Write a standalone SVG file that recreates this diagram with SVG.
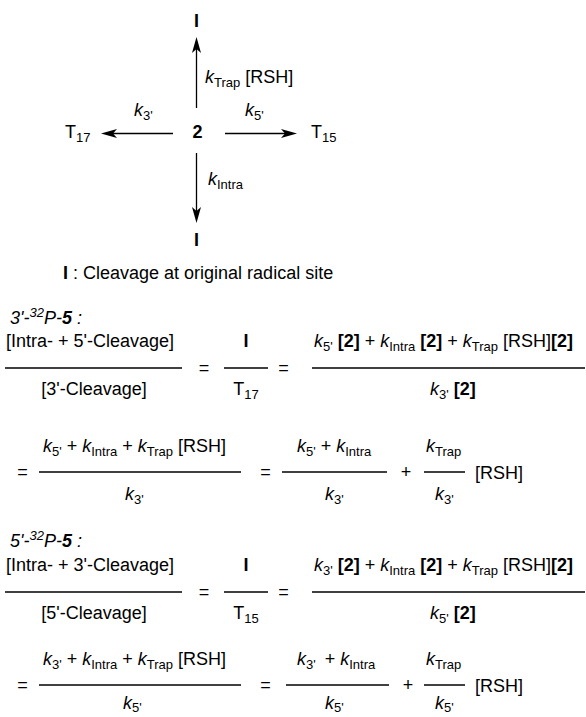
<svg xmlns="http://www.w3.org/2000/svg" width="586" height="717" viewBox="0 0 586 717">
<style>
.t{font-family:"Liberation Sans",Arial,Helvetica,sans-serif;font-size:18px;fill:#000}
.i{font-style:italic}
.b{font-weight:bold}
.s{font-size:13px}
.m{text-anchor:middle}
.ln{stroke:#000;stroke-width:1.3;fill:none}
.ar{stroke:#000;stroke-width:1.3;fill:none;marker-end:url(#ah)}
</style>
<defs>
<marker id="ah" markerUnits="userSpaceOnUse" markerWidth="20" markerHeight="12" refX="0" refY="0" orient="auto" overflow="visible">
<path d="M12,0 L-4,-4.5 L0,0 L-4,4.5 Z" fill="#000"/>
</marker>
</defs>

<g id="node-I-top"><text class="t b m" x="196.5" y="27">I</text></g>
<g id="node-2"><text class="t b m" x="197.5" y="138">2</text></g>
<g id="node-T17"><text class="t" x="65" y="138">T<tspan class="s" dy="4">17</tspan></text></g>
<g id="node-T15"><text class="t" x="311" y="138">T<tspan class="s" dy="4">15</tspan></text></g>
<g id="node-I-bottom"><text class="t b m" x="196.5" y="246">I</text></g>

<g id="connectors">
<line class="ar" x1="196.5" y1="108" x2="196.5" y2="49"/>
<line class="ar" x1="196.5" y1="153" x2="196.5" y2="211"/>
<line class="ar" x1="173" y1="133.5" x2="113" y2="133.5"/>
<line class="ar" x1="225" y1="133.5" x2="285" y2="133.5"/>
<text class="t" x="205" y="83"><tspan class="i">k</tspan><tspan class="s" dy="4">Trap</tspan><tspan dy="-4"> [RSH]</tspan></text>
<text class="t" x="134" y="116"><tspan class="i">k</tspan><tspan class="s" dy="4">3'</tspan></text>
<text class="t" x="245" y="116"><tspan class="i">k</tspan><tspan class="s" dy="4">5'</tspan></text>
<text class="t" x="208" y="185"><tspan class="i">k</tspan><tspan class="s" dy="4">Intra</tspan></text>
</g>

<g id="legend"><text class="t" x="63" y="279"><tspan class="b">I</tspan> : Cleavage at original radical site</text></g>

<g id="block-3prime">
<text class="t i" x="10" y="324">3'-<tspan class="s" dy="-7">32</tspan><tspan dy="7">P-</tspan><tspan class="b">5</tspan> :</text>
<text class="t" x="6" y="347">[Intra- + 5'-Cleavage]</text>
<line class="ln" x1="5" y1="368" x2="182" y2="368"/>
<text class="t m" x="94" y="395">[3'-Cleavage]</text>
<text class="t m" x="204" y="374">=</text>
<text class="t b m" x="246" y="347">I</text>
<line class="ln" x1="224" y1="368" x2="268" y2="368"/>
<text class="t m" x="246" y="395">T<tspan class="s" dy="4">17</tspan></text>
<text class="t m" x="283.5" y="374">=</text>
<text class="t" x="314" y="347"><tspan class="i">k</tspan><tspan class="s" dy="4">5'</tspan><tspan dy="-4"> </tspan><tspan class="b">[2]</tspan> + <tspan class="i">k</tspan><tspan class="s" dy="4">Intra</tspan><tspan dy="-4"> </tspan><tspan class="b">[2]</tspan> + <tspan class="i">k</tspan><tspan class="s" dy="4">Trap</tspan><tspan dy="-4"> [RSH]</tspan><tspan class="b">[2]</tspan></text>
<line class="ln" x1="312" y1="368" x2="585" y2="368"/>
<text class="t" x="430" y="395"><tspan class="i">k</tspan><tspan class="s" dy="4">3'</tspan><tspan dy="-4"> </tspan><tspan class="b">[2]</tspan></text>

<text class="t m" x="22.5" y="478">=</text>
<text class="t" x="43" y="452"><tspan class="i">k</tspan><tspan class="s" dy="4">5'</tspan><tspan dy="-4"> + </tspan><tspan class="i">k</tspan><tspan class="s" dy="4">Intra</tspan><tspan dy="-4"> + </tspan><tspan class="i">k</tspan><tspan class="s" dy="4">Trap</tspan><tspan dy="-4"> [RSH]</tspan></text>
<line class="ln" x1="39" y1="472" x2="241" y2="472"/>
<text class="t" x="125" y="500"><tspan class="i">k</tspan><tspan class="s" dy="4">3'</tspan></text>
<text class="t m" x="265.5" y="478">=</text>
<text class="t" x="297" y="452"><tspan class="i">k</tspan><tspan class="s" dy="4">5'</tspan><tspan dy="-4"> + </tspan><tspan class="i">k</tspan><tspan class="s" dy="4">Intra</tspan></text>
<line class="ln" x1="282" y1="472" x2="387" y2="472"/>
<text class="t" x="325" y="500"><tspan class="i">k</tspan><tspan class="s" dy="4">3'</tspan></text>
<text class="t m" x="406" y="478">+</text>
<text class="t" x="426" y="452"><tspan class="i">k</tspan><tspan class="s" dy="4">Trap</tspan></text>
<line class="ln" x1="424" y1="472" x2="465" y2="472"/>
<text class="t" x="435" y="500"><tspan class="i">k</tspan><tspan class="s" dy="4">3'</tspan></text>
<text class="t" x="475" y="479">[RSH]</text>
</g>

<g id="block-5prime">
<text class="t i" x="10" y="547">5'-<tspan class="s" dy="-7">32</tspan><tspan dy="7">P-</tspan><tspan class="b">5</tspan> :</text>
<text class="t" x="6" y="571">[Intra- + 3'-Cleavage]</text>
<line class="ln" x1="5" y1="592" x2="182" y2="592"/>
<text class="t m" x="94" y="619">[5'-Cleavage]</text>
<text class="t m" x="204" y="598">=</text>
<text class="t b m" x="246" y="571">I</text>
<line class="ln" x1="224" y1="592" x2="268" y2="592"/>
<text class="t m" x="246" y="619">T<tspan class="s" dy="4">15</tspan></text>
<text class="t m" x="283.5" y="598">=</text>
<text class="t" x="314" y="571"><tspan class="i">k</tspan><tspan class="s" dy="4">3'</tspan><tspan dy="-4"> </tspan><tspan class="b">[2]</tspan> + <tspan class="i">k</tspan><tspan class="s" dy="4">Intra</tspan><tspan dy="-4"> </tspan><tspan class="b">[2]</tspan> + <tspan class="i">k</tspan><tspan class="s" dy="4">Trap</tspan><tspan dy="-4"> [RSH]</tspan><tspan class="b">[2]</tspan></text>
<line class="ln" x1="312" y1="592" x2="585" y2="592"/>
<text class="t" x="430" y="619"><tspan class="i">k</tspan><tspan class="s" dy="4">5'</tspan><tspan dy="-4"> </tspan><tspan class="b">[2]</tspan></text>

<text class="t m" x="22.5" y="691">=</text>
<text class="t" x="43" y="665"><tspan class="i">k</tspan><tspan class="s" dy="4">3'</tspan><tspan dy="-4"> + </tspan><tspan class="i">k</tspan><tspan class="s" dy="4">Intra</tspan><tspan dy="-4"> + </tspan><tspan class="i">k</tspan><tspan class="s" dy="4">Trap</tspan><tspan dy="-4"> [RSH]</tspan></text>
<line class="ln" x1="39" y1="685" x2="241" y2="685"/>
<text class="t" x="123" y="709"><tspan class="i">k</tspan><tspan class="s" dy="3">5'</tspan></text>
<text class="t m" x="265.5" y="691">=</text>
<text class="t" x="297" y="665"><tspan class="i">k</tspan><tspan class="s" dy="4">3'</tspan><tspan dy="-4" dx="4"> + </tspan><tspan class="i">k</tspan><tspan class="s" dy="4">Intra</tspan></text>
<line class="ln" x1="286" y1="685" x2="389" y2="685"/>
<text class="t" x="325" y="709"><tspan class="i">k</tspan><tspan class="s" dy="3">5'</tspan></text>
<text class="t m" x="408" y="691">+</text>
<text class="t" x="426" y="665"><tspan class="i">k</tspan><tspan class="s" dy="4">Trap</tspan></text>
<line class="ln" x1="424" y1="685" x2="465" y2="685"/>
<text class="t" x="435" y="709"><tspan class="i">k</tspan><tspan class="s" dy="3">5'</tspan></text>
<text class="t" x="475" y="692">[RSH]</text>
</g>
</svg>
